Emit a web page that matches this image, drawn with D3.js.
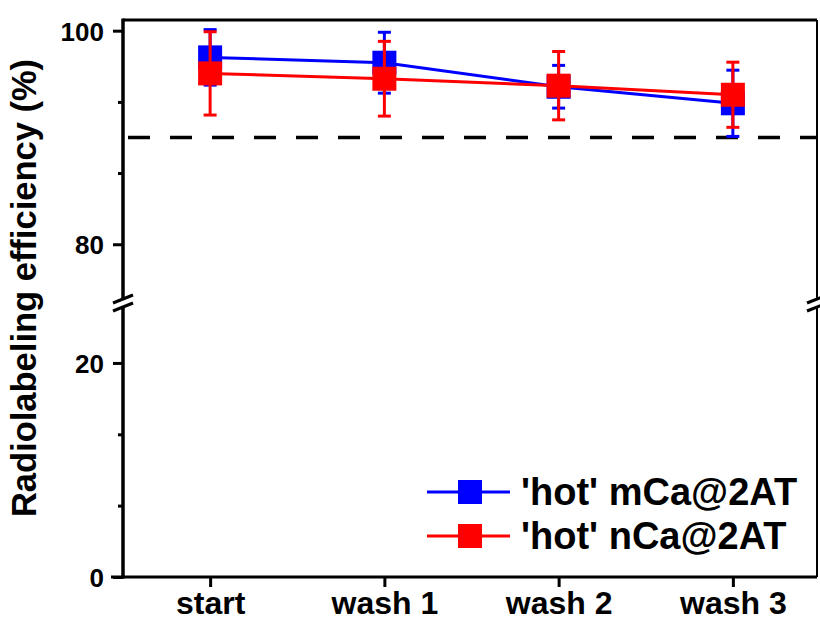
<!DOCTYPE html>
<html>
<head>
<meta charset="utf-8">
<script src="https://cdn.jsdelivr.net/npm/d3@7"></script>
<style>
  html, body { margin: 0; padding: 0; background: #fff; }
  svg { display: block; font-family: "Liberation Sans", Arial, sans-serif; font-weight: bold; }
</style>
</head>
<body>
<svg id="chart" width="820" height="620"></svg>
<script>
// ---- data ----
const categories = ["start", "wash 1", "wash 2", "wash 3"];
const seriesNames = ["'hot' mCa@2AT", "'hot' nCa@2AT"];
const mCaValues = [97.5, 97.0, 94.75, 93.2];
const mCaErrors = [2.6, 2.85, 2.0, 3.1];
const nCaValues = [96.0, 95.5, 94.85, 94.0];
const nCaErrors = [3.9, 3.5, 3.2, 3.05];
const thresholdValue = 90;
const upperMajorTicks = [80, 100];
const upperMinorTicks = [86.67, 93.33];
const lowerMajorTicks = [0, 20];
const lowerMinorTicks = [6.67, 13.33];
const yTitle = "Radiolabeling efficiency (%)";

const seriesColors = ["#0000ff", "#ff0000"];

// ---- layout ----
const svg = d3.select("#chart");
const pLeft = 123, pRight = 817, pTop = 20, pBottom = 577, breakY = 303;

const x = d3.scalePoint().domain(categories).range([pLeft, 820]).padding(0.5);
const yUpper = d3.scaleLinear().domain([74.5, 101]).range([breakY, pTop]);
const yLower = d3.scaleLinear().domain([0, 25.6]).range([pBottom, breakY]);
const y = v => (v >= 50 ? yUpper(v) : yLower(v));

// frame: top and right
svg.append("line").attr("x1", pLeft).attr("x2", pRight).attr("y1", pTop).attr("y2", pTop)
  .attr("stroke", "#000").attr("stroke-width", 3);
svg.append("line").attr("x1", pRight).attr("x2", pRight).attr("y1", pTop).attr("y2", pBottom)
  .attr("stroke", "#000").attr("stroke-width", 2);

// x axis
const xAxis = svg.append("g").attr("transform", `translate(0,${pBottom})`)
  .call(d3.axisBottom(x).tickSize(10).tickSizeOuter(0));
xAxis.select(".domain").remove();
xAxis.selectAll(".tick line").attr("stroke", "#000").attr("stroke-width", 3);
xAxis.selectAll(".tick text").attr("y", 37).attr("dy", 0).attr("font-size", 32)
  .attr("font-family", "Liberation Sans, Arial, sans-serif").attr("font-weight", "bold").attr("fill", "#000");
svg.append("line").attr("x1", pLeft - 12).attr("x2", pRight).attr("y1", pBottom).attr("y2", pBottom)
  .attr("stroke", "#000").attr("stroke-width", 3);

// y axes (two segments)
function drawY(scale, majors, minors) {
  const gMaj = svg.append("g").attr("transform", `translate(${pLeft},0)`)
    .call(d3.axisLeft(scale).tickValues(majors).tickSize(10).tickSizeOuter(0).tickFormat(d3.format("d")));
  gMaj.select(".domain").remove();
  gMaj.selectAll(".tick line").attr("stroke", "#000").attr("stroke-width", 3);
  gMaj.selectAll(".tick text").attr("x", -19).attr("dy", "0.36em").attr("font-size", 26)
    .attr("font-family", "Liberation Sans, Arial, sans-serif").attr("font-weight", "bold").attr("fill", "#000");
  const gMin = svg.append("g").attr("transform", `translate(${pLeft},0)`)
    .call(d3.axisLeft(scale).tickValues(minors).tickSize(5).tickSizeOuter(0).tickFormat(""));
  gMin.select(".domain").remove();
  gMin.selectAll(".tick line").attr("stroke", "#000").attr("stroke-width", 3);
}
drawY(yUpper, upperMajorTicks, upperMinorTicks);
drawY(yLower, lowerMajorTicks, lowerMinorTicks);
svg.append("line").attr("x1", pLeft).attr("x2", pLeft).attr("y1", pTop - 1.5).attr("y2", pBottom + 1.5)
  .attr("stroke", "#000").attr("stroke-width", 3.5);

// break marks
function breakMark(cx) {
  svg.append("rect").attr("x", cx - 4).attr("y", breakY - 4).attr("width", 8).attr("height", 8).attr("fill", "#fff");
  [-4, 4].forEach(o => {
    svg.append("line").attr("x1", cx - 10).attr("y1", breakY + o + 4).attr("x2", cx + 10).attr("y2", breakY + o - 4)
      .attr("stroke", "#000").attr("stroke-width", 3);
  });
}
breakMark(pLeft);
breakMark(pRight);

// threshold dashed line
svg.append("line").attr("x1", pLeft + 5).attr("x2", pRight).attr("y1", y(thresholdValue)).attr("y2", y(thresholdValue))
  .attr("stroke", "#000").attr("stroke-width", 3.5).attr("stroke-dasharray", "22,20");

// series
const series = [
  { name: seriesNames[0], values: mCaValues, errors: mCaErrors, color: seriesColors[0] },
  { name: seriesNames[1], values: nCaValues, errors: nCaErrors, color: seriesColors[1] }
];
const line = d3.line().x(d => x(d.c)).y(d => y(d.v));
const sq = 24, cap = 13;
series.forEach(s => {
  const pts = categories.map((c, i) => ({ c, v: s.values[i], e: s.errors[i] }));
  const g = svg.append("g");
  g.append("path").attr("d", line(pts)).attr("fill", "none").attr("stroke", s.color).attr("stroke-width", 3);
  g.selectAll("rect.m").data(pts).join("rect").attr("class", "m")
    .attr("x", d => x(d.c) - sq / 2).attr("y", d => y(d.v) - sq / 2)
    .attr("width", sq).attr("height", sq).attr("fill", s.color);
  const eb = g.selectAll("g.err").data(pts).join("g").attr("class", "err")
    .attr("stroke", s.color).attr("stroke-width", 3);
  eb.append("line").attr("x1", d => x(d.c)).attr("x2", d => x(d.c))
    .attr("y1", d => y(d.v + d.e)).attr("y2", d => y(d.v - d.e));
  eb.append("line").attr("x1", d => x(d.c) - cap / 2).attr("x2", d => x(d.c) + cap / 2)
    .attr("y1", d => y(d.v + d.e)).attr("y2", d => y(d.v + d.e));
  eb.append("line").attr("x1", d => x(d.c) - cap / 2).attr("x2", d => x(d.c) + cap / 2)
    .attr("y1", d => y(d.v - d.e)).attr("y2", d => y(d.v - d.e));
});

// legend
const legendY = [492, 536];
series.forEach((s, i) => {
  const g = svg.append("g").attr("transform", `translate(0,${legendY[i]})`);
  g.append("line").attr("x1", 427).attr("x2", 510).attr("y1", 0).attr("y2", 0)
    .attr("stroke", s.color).attr("stroke-width", 3);
  g.append("rect").attr("x", 470 - sq / 2).attr("y", -sq / 2).attr("width", sq).attr("height", sq).attr("fill", s.color);
  g.append("text").attr("x", 521).attr("y", 13).attr("font-size", 38).attr("fill", "#000").text(s.name);
});

// y title
svg.append("text").attr("transform", "translate(36,288) rotate(-90)")
  .attr("text-anchor", "middle").attr("font-size", 34.5).attr("fill", "#000").text(yTitle);
</script>
</body>
</html>
